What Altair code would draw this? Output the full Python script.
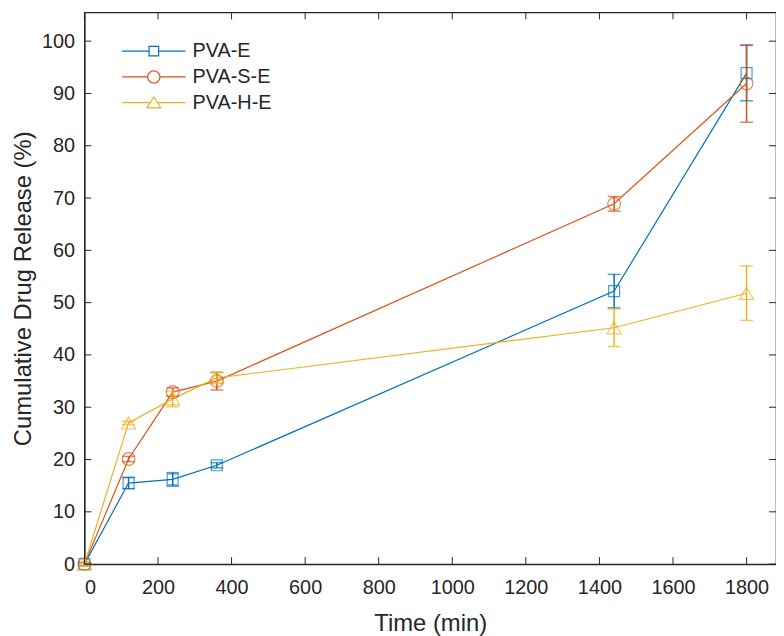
import altair as alt
import pandas as pd

series = ["PVA-E", "PVA-S-E", "PVA-H-E"]
colors = ["#0072BD", "#D95319", "#EDB120"]
time_min = [0, 120, 240, 360, 1440, 1800]
pva_e = [0, 15.5, 16.2, 18.9, 52.2, 93.9]
pva_e_err = [0.3, 1.1, 1.3, 0.5, 3.2, 5.3]
pva_s_e = [0, 20.1, 32.9, 35.0, 68.9, 91.9]
pva_s_e_err = [0.3, 0.5, 0.8, 1.7, 1.4, 7.4]
pva_h_e = [0, 27.0, 31.6, 35.6, 45.2, 51.8]
pva_h_e_err = [0.3, 0.3, 1.5, 1.0, 3.6, 5.2]
x_ticks = [0, 200, 400, 600, 800, 1000, 1200, 1400, 1600, 1800]
y_ticks = [0, 10, 20, 30, 40, 50, 60, 70, 80, 90, 100]

values = {"PVA-E": (pva_e, pva_e_err), "PVA-S-E": (pva_s_e, pva_s_e_err), "PVA-H-E": (pva_h_e, pva_h_e_err)}
rows = []
for s in series:
    v, e = values[s]
    for t, y, err in zip(time_min, v, e):
        rows.append({"series": s, "time": t, "value": y, "lo": y - err, "hi": y + err})
df = pd.DataFrame(rows)

W, H = 697, 556
FONT = "Liberation Sans"
TXT = "#262626"

xs = alt.Scale(domain=[0, 1880], nice=False, zero=False)
ys = alt.Scale(domain=[0, 105.5], nice=False, zero=False)
cs = alt.Scale(domain=series, range=colors)

X = alt.X("time:Q", scale=xs, axis=alt.Axis(values=x_ticks, format="d", title="Time (min)", tickSize=0,
                                           labelPadding=14, titlePadding=14))
Y = alt.Y("value:Q", scale=ys, axis=alt.Axis(values=y_ticks, format="d", title="Cumulative Drug Release (%)",
                                            tickSize=0, labelPadding=10, titlePadding=6))
C = alt.Color("series:N", scale=cs, legend=None)

base = alt.Chart(df)

# legend symbols drawn as filled outlines (line segment + hollow marker), 8 px per unit
def bez_circle(r, ccw=False):
    k = round(0.5523 * r, 4)
    if not ccw:
        return ("M{m},0C{m},-{k} -{k},-{r} 0,-{r}C{k},-{r} {r},-{k} {r},0"
                "C{r},{k} {k},{r} 0,{r}C-{k},{r} {m},{k} {m},0Z").format(r=r, m=-r, k=k)
    return ("M{m},0C{m},{k} -{k},{r} 0,{r}C{k},{r} {r},{k} {r},0"
            "C{r},-{k} {k},-{r} 0,-{r}C-{k},-{r} {m},-{k} {m},0Z").format(r=r, m=-r, k=k)

def seg(edge):
    return ("M-4,-0.075H-{e}V0.075H-4ZM{e},-0.075H4V0.075H{e}Z").format(e=edge)

leg_paths = [
    seg(0.675) + "M-0.675,-0.675H0.675V0.675H-0.675ZM-0.525,-0.525V0.525H0.525V-0.525Z",
    seg(0.84) + bez_circle(0.84) + bez_circle(0.69, ccw=True),
    seg(0.55) + "M0,-0.88L1.0,0.72L-1.0,0.72ZM0,-0.597L-0.73,0.57L0.73,0.57Z",
]
leg = alt.Legend(
    title=None, orient="none", legendX=60, legendY=29, padding=0,
    labelFont=FONT, labelFontSize=20, labelColor=TXT, labelOffset=29,
    symbolSize=256, symbolStrokeWidth=0, symbolOpacity=1, rowPadding=6)
legend_layer = base.transform_filter("datum.time < 0").mark_point(filled=True).encode(
    x=X, y=Y,
    color=alt.Color("series:N", scale=cs, legend=leg),
    shape=alt.Shape("series:N", scale=alt.Scale(domain=series, range=leg_paths), legend=leg),
)

lines = base.mark_line(strokeWidth=1.2).encode(x=X, y=Y, color=C, detail="series:N")
bars = base.mark_rule(strokeWidth=1.5).encode(x="time:Q", y="lo:Q", y2="hi:Q", color=C)
cap_lo = base.mark_tick(orient="horizontal", size=13, thickness=1.5).encode(x="time:Q", y="lo:Q", color=C)
cap_hi = base.mark_tick(orient="horizontal", size=13, thickness=1.5).encode(x="time:Q", y="hi:Q", color=C)

shapes = {"PVA-E": ("square", 121), "PVA-S-E": ("circle", 165), "PVA-H-E": ("triangle-up", 200)}
pts = []
for s in series:
    shp, sz = shapes[s]
    pts.append(base.transform_filter(alt.datum.series == s)
               .mark_point(shape=shp, size=sz, strokeWidth=1.2, filled=False)
               .encode(x="time:Q", y="value:Q", color=C))

TL = 7
xt = pd.DataFrame({"time": x_ticks})
yt = pd.DataFrame({"value": y_ticks})
tick_style = dict(color=TXT, strokeWidth=1)
xb = alt.Chart(xt).mark_rule(**tick_style).encode(x="time:Q", y=alt.value(H), y2=alt.value(H - TL))
xtop = alt.Chart(xt).mark_rule(**tick_style).encode(x="time:Q", y=alt.value(0), y2=alt.value(TL))
yl = alt.Chart(yt).mark_rule(**tick_style).encode(y="value:Q", x=alt.value(0), x2=alt.value(TL))
yr = alt.Chart(yt).mark_rule(**tick_style).encode(y="value:Q", x=alt.value(W), x2=alt.value(W - TL))

chart = alt.layer(legend_layer, lines, bars, cap_lo, cap_hi, *pts, xb, xtop, yl, yr).properties(
    width=W, height=H,
    autosize=alt.AutoSizeParams(type="none"),
    padding={"left": 77, "top": 2, "right": 0, "bottom": 70},
).configure_view(stroke=TXT, strokeWidth=1.2).configure_axis(
    labelFont=FONT, titleFont=FONT, labelFontSize=20, titleFontSize=24, titleFontWeight="normal",
    labelColor=TXT, titleColor=TXT, domainColor=TXT, domainWidth=1.2, grid=False,
)

chart.save("out.html", embed_options={"renderer": "svg", "actions": False})
